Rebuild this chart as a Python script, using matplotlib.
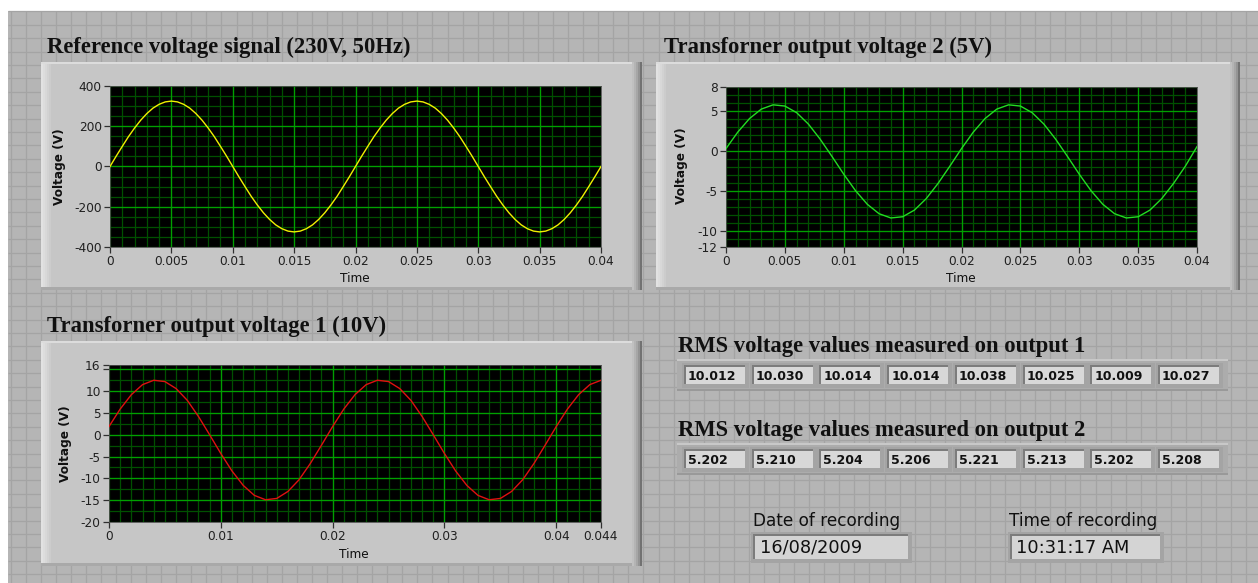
import numpy as np
import matplotlib
matplotlib.use("Agg")
import matplotlib.pyplot as plt
from matplotlib.patches import Rectangle
from matplotlib.ticker import MultipleLocator

W, H = 1258, 583

# waveform samples
ref_voltage = [0, 51, 100, 148, 191, 230, 263, 290, 309, 321, 325, 321, 309, 290, 263, 230, 191, 148, 100, 51,
               0, -51, -100, -148, -191, -230, -263, -290, -309, -321, -325, -321, -309, -290, -263, -230, -191, -148, -100, -51,
               0, 51, 100, 148, 191, 230, 263, 290, 309, 321, 325, 321, 309, 290, 263, 230, 191, 148, 100, 51,
               0, -51, -100, -148, -191, -230, -263, -290, -309, -321, -325, -321, -309, -290, -263, -230, -191, -148, -100, -51, 0]
out1_voltage = [1.9, 5.9, 9.2, 11.5, 12.5, 12.2, 10.6, 7.9, 4.2, 0.0, -4.3, -8.3, -11.6, -13.9, -14.9, -14.6, -13.0, -10.3, -6.6, -2.4,
                1.9, 5.9, 9.2, 11.5, 12.5, 12.2, 10.6, 7.9, 4.2, 0.0, -4.3, -8.3, -11.6, -13.9, -14.9, -14.6, -13.0, -10.3, -6.6, -2.4,
                1.9, 5.9, 9.2, 11.5, 12.5]
out2_voltage = [0.3, 2.36, 4.06, 5.24, 5.77, 5.62, 4.79, 3.36, 1.47, -0.68, -2.9, -4.96, -6.66, -7.84, -8.37, -8.22, -7.39, -5.96, -4.07, -1.92,
                0.3, 2.36, 4.06, 5.24, 5.77, 5.62, 4.79, 3.36, 1.47, -0.68, -2.9, -4.96, -6.66, -7.84, -8.37, -8.22, -7.39, -5.96, -4.07, -1.92, 0.55]
t_ref = np.arange(len(ref_voltage)) * 0.0005
t_out1 = np.arange(len(out1_voltage)) * 0.001
t_out2 = np.arange(len(out2_voltage)) * 0.001

rms_out1 = ["10.012", "10.030", "10.014", "10.014", "10.038", "10.025", "10.009", "10.027"]
rms_out2 = ["5.202", "5.210", "5.204", "5.206", "5.221", "5.213", "5.202", "5.208"]
rec_date = "16/08/2009"
rec_time = "10:31:17 AM"

TITLE_FONT = dict(family="Liberation Serif", weight="bold", size=16.3, color="#101010")

fig = plt.figure(figsize=(W / 100, H / 100), dpi=100)
fig.patch.set_facecolor("white")
bg = fig.add_axes([0, 0, 1, 1])
bg.set_xlim(0, W)
bg.set_ylim(H, 0)
bg.axis("off")

# labview front panel background with its grid
bg.add_patch(Rectangle((8, 11), W - 8, H - 11, fc="#b5b5b5", ec="none", zorder=0))
xs = np.arange(10.5, W, 15.07)
ys = np.arange(11.3, H, 13.4)
bg.vlines(xs[xs > 8], 11, H, color="#a4a4a4", lw=0.9, zorder=0.5)
bg.hlines(ys, 8, W, color="#a4a4a4", lw=0.9, zorder=0.5)


def draw_panel(x0, y0, x1, y1):
    bg.add_patch(Rectangle((x0, y0), x1 - x0, y1 - y0, fc="#c6c6c6", ec="none", zorder=1))
    for i, c in enumerate(["#e2e2e2", "#dddddd", "#d8d8d8", "#d2d2d2", "#cccccc"]):
        bg.add_patch(Rectangle((x0 + 2 * i, y0), 2, y1 - y0, fc=c, ec="none", zorder=1))
    bg.add_patch(Rectangle((x0, y0), x1 - x0, 2, fc="#dcdcdc", ec="none", zorder=1))
    for i, c in enumerate(["#c0c0c0", "#b4b4b4", "#a6a6a6", "#949494", "#727272"]):
        bg.add_patch(Rectangle((x1 - 10 + 2 * i, y0), 2, y1 - y0, fc=c, ec="none", zorder=1))
    bg.add_patch(Rectangle((x0, y1 - 3), x1 - x0 - 10, 3, fc="#a9a9a9", ec="none", zorder=1))


def sunken_box(x0, y0, x1, y1, fc="#d8d8d8"):
    bg.add_patch(Rectangle((x0 - 4, y0 - 4), x1 - x0 + 8, y1 - y0 + 8, fc="#a4a4a4", ec="none", zorder=2))
    bg.add_patch(Rectangle((x0 - 2, y0 - 2), x1 - x0 + 2, y1 - y0 + 2, fc="#7c7c7c", ec="none", zorder=2))
    bg.add_patch(Rectangle((x0, y0), x1 - x0, y1 - y0, fc=fc, ec="none", zorder=2))


def make_graph(box, t, v, color, xlim, ylim, xticks, xlabels, yticks, ylabels, xminor, yminor, xmajgrid, ymajgrid):
    l, t0, r, b = box
    ax = fig.add_axes([l / W, 1 - b / H, (r - l) / W, (b - t0) / H])
    ax.set_facecolor("black")
    ax.plot(t, v, color=color, lw=1.0, zorder=3)
    ax.set_xlim(*xlim)
    ax.set_ylim(*ylim)
    ax.set_xticks(xticks)
    ax.set_xticklabels(xlabels)
    ax.set_yticks(yticks)
    ax.set_yticklabels(ylabels)
    ax.xaxis.set_minor_locator(MultipleLocator(xminor))
    ax.yaxis.set_minor_locator(MultipleLocator(yminor))
    ax.tick_params(which="major", direction="out", length=4, width=0.9, color="#303030",
                   labelsize=8.7, labelcolor="#202020", pad=2)
    ax.tick_params(which="minor", length=0)
    for lab in ax.get_xticklabels() + ax.get_yticklabels():
        lab.set_family("DejaVu Sans")
    # grid drawn by hand so majors and minors can differ
    for x in np.arange(xlim[0], xlim[1] + 1e-9, xminor):
        ax.axvline(x, color="#005000", lw=0.9, zorder=1)
    for y in np.arange(ylim[0], ylim[1] + 1e-9, yminor):
        ax.axhline(y, color="#005000", lw=0.9, zorder=1)
    for x in xmajgrid:
        ax.axvline(x, color="#00a000", lw=0.9, zorder=2)
    for y in ymajgrid:
        ax.axhline(y, color="#00a000", lw=0.9, zorder=2)
    for s in ax.spines.values():
        s.set_color("#505050")
        s.set_linewidth(0.6)
    return ax


# graph 1: reference signal
draw_panel(41, 62, 642, 290)
bg.text(47, 53, "Reference voltage signal (230V, 50Hz)", va="baseline", ha="left", **TITLE_FONT)
make_graph((110, 86, 601, 247), t_ref, ref_voltage, "#f0f000", (0, 0.04), (-400, 400),
           [0, 0.005, 0.01, 0.015, 0.02, 0.025, 0.03, 0.035, 0.04],
           ["0", "0.005", "0.01", "0.015", "0.02", "0.025", "0.03", "0.035", "0.04"],
           [-400, -200, 0, 200, 400], ["-400", "-200", "0", "200", "400"],
           0.001, 50, [0.005, 0.01, 0.015, 0.02, 0.025, 0.03, 0.035], [-200, 0, 200])
bg.text(59, 167, "Voltage (V)", rotation=90, ha="center", va="center", fontsize=8.7,
        weight="bold", family="DejaVu Sans", color="#101010", zorder=5)
bg.text(355, 279, "Time", ha="center", va="center", fontsize=8.7, family="DejaVu Sans", color="#101010", zorder=5)

# graph 2: output 2
draw_panel(656, 62, 1240, 290)
bg.text(664, 53, "Transforner output voltage 2 (5V)", va="baseline", ha="left", **TITLE_FONT)
make_graph((726, 87, 1197, 247), t_out2, out2_voltage, "#22dd22", (0, 0.04), (-12, 8),
           [0, 0.005, 0.01, 0.015, 0.02, 0.025, 0.03, 0.035, 0.04],
           ["0", "0.005", "0.01", "0.015", "0.02", "0.025", "0.03", "0.035", "0.04"],
           [-12, -10, -5, 0, 5, 8], ["-12", "-10", "-5", "0", "5", "8"],
           0.001, 1, [0.005, 0.01, 0.015, 0.02, 0.025, 0.03, 0.035], [-10, -5, 0, 5])
bg.text(681, 166, "Voltage (V)", rotation=90, ha="center", va="center", fontsize=8.7,
        weight="bold", family="DejaVu Sans", color="#101010", zorder=5)
bg.text(961, 279, "Time", ha="center", va="center", fontsize=8.7, family="DejaVu Sans", color="#101010", zorder=5)

# graph 3: output 1
draw_panel(41, 341, 642, 566)
bg.text(47, 332, "Transforner output voltage 1 (10V)", va="baseline", ha="left", **TITLE_FONT)
make_graph((109, 365, 601, 522), t_out1, out1_voltage, "#e01010", (0, 0.044), (-20, 16),
           [0, 0.01, 0.02, 0.03, 0.04, 0.044], ["0", "0.01", "0.02", "0.03", "0.04", "0.044"],
           [-20, -15, -10, -5, 0, 5, 10, 15, 16], ["-20", "-15", "-10", "-5", "0", "5", "10", "", "16"],
           0.001, 2.5, [0.01, 0.02, 0.03, 0.04], [-15, -10, -5, 0, 5, 10, 15])
bg.text(65, 444, "Voltage (V)", rotation=90, ha="center", va="center", fontsize=8.7,
        weight="bold", family="DejaVu Sans", color="#101010", zorder=5)
bg.text(354, 555, "Time", ha="center", va="center", fontsize=8.7, family="DejaVu Sans", color="#101010", zorder=5)

# RMS arrays
for title, vals, ty, y0 in [("RMS voltage values measured on output 1", rms_out1, 352, 367),
                            ("RMS voltage values measured on output 2", rms_out2, 436, 451)]:
    bg.text(678, ty, title, va="baseline", ha="left", zorder=5, **TITLE_FONT)
    bg.add_patch(Rectangle((677, y0 - 8), 551, 32, fc="#acacac", ec="none", zorder=1.5))
    bg.add_patch(Rectangle((677, y0 - 8), 551, 2, fc="#c8c8c8", ec="none", zorder=1.5))
    bg.add_patch(Rectangle((677, y0 + 22), 551, 2, fc="#999999", ec="none", zorder=1.5))
    for i, v in enumerate(vals):
        x0 = 686 + 67.7 * i
        sunken_box(x0, y0, x0 + 59, y0 + 17)
        bg.text(x0 + 2, y0 + 9, v, ha="left", va="center", fontsize=9, weight="bold",
                family="DejaVu Sans", color="#101010", zorder=5)

# date / time indicators
bg.text(753, 526, "Date of recording", ha="left", va="baseline", fontsize=12.2, family="DejaVu Sans",
        color="#101010", zorder=5)
sunken_box(755, 536, 908, 559, fc="#d4d4d4")
bg.text(760, 548, rec_date, ha="left", va="center", fontsize=12.8, family="DejaVu Sans", color="#101010", zorder=5)
bg.text(1009, 526, "Time of recording", ha="left", va="baseline", fontsize=12.2, family="DejaVu Sans",
        color="#101010", zorder=5)
sunken_box(1012, 536, 1160, 559, fc="#d4d4d4")
bg.text(1016, 548, rec_time, ha="left", va="center", fontsize=12.8, family="DejaVu Sans", color="#101010", zorder=5)

fig.savefig("out.png", dpi=100)
